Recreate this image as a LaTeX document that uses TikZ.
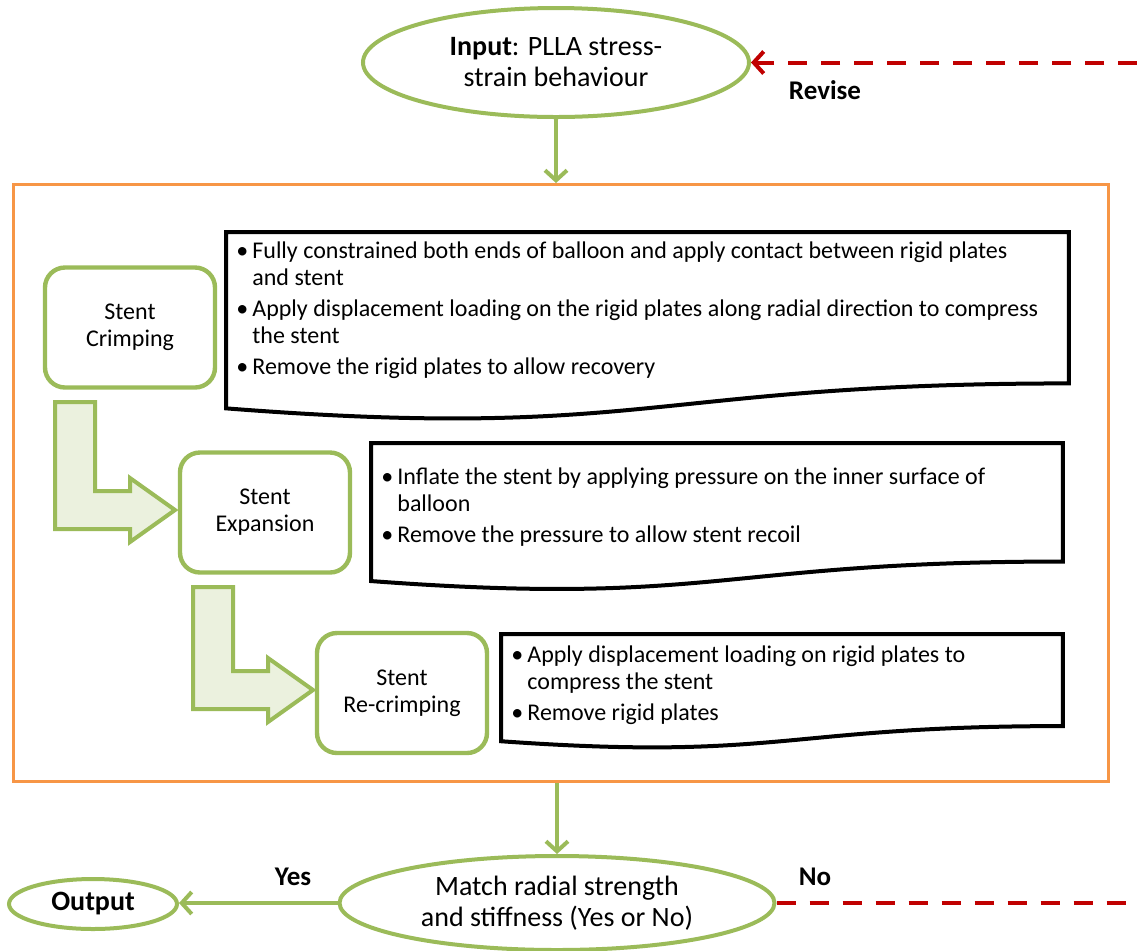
\documentclass[tikz,border=0pt]{standalone}
\usepackage{fontspec}
\setmainfont{Carlito}
\usetikzlibrary{shapes.geometric, arrows.meta, calc, positioning}
\definecolor{stentgreen}{HTML}{9BBB59}
\definecolor{stentfill}{HTML}{EBF1DE}
\definecolor{boxorange}{HTML}{F79646}
\definecolor{revred}{HTML}{C00000}
\tikzset{
  io/.style={ellipse, draw=stentgreen, line width=2pt, align=center, inner sep=0pt},
  frame/.style={rectangle, draw=boxorange, line width=1.4pt, anchor=north west},
  stage/.style={rectangle, draw=stentgreen, line width=2.2pt, rounded corners=10pt, minimum width=85pt, minimum height=60pt, align=center, font=\fontsize{12}{13.5}\selectfont},
  docbox/.style={rectangle, draw=none, inner sep=0pt, anchor=north west},
  docline/.style={draw=black, line width=2pt},
  doctext/.style={anchor=north west, inner sep=0pt, align=left, font=\fontsize{12}{13.5}\selectfont},
  bent/.style={draw=stentgreen, fill=stentfill, line width=2pt},
  flow/.style={draw=stentgreen, line width=2pt, -{Straight Barb[length=5pt, width=11pt]}},
  revise/.style={draw=revred, line width=2pt, dash pattern=on 9.5pt off 7pt},
  revarrow/.style={-{Straight Barb[length=5pt, width=11pt]}},
  tag/.style={font=\bfseries\fontsize{13.5}{15}\selectfont}
}
\newcommand{\docoutline}[1]{%
  \draw[docline] (#1.north west) -- (#1.north east)
    -- ($(#1.north east)!0.802!(#1.south east)$)
    .. controls ($(#1.north)!0.802!(#1.south)$) and ($(#1.north)!1.108!(#1.south)$)
    .. ($(#1.north west)!0.934!(#1.south west)$) -- cycle;}
\newcommand{\bul}{\makebox[8pt][l]{\textbullet}}

\begin{document}
\begin{tikzpicture}[x=0.5pt, y=-0.5pt]
\useasboundingbox (0,0) rectangle (1137,950);

% Input and simulation frame
\node[io, minimum width=193pt, minimum height=54.5pt, font=\fontsize{14}{15.5}\selectfont] (input) at (556,62.5) {\textbf{Input}: PLLA stress-\\strain behaviour};
\node[frame, minimum width=547.5pt, minimum height=298.5pt] (sim) at (12,183) {};

% Simulation stages
\node[stage] (crimp) at (130,327.5) {Stent\\Crimping};
\node[stage] (expand) at (265,512.5) {Stent\\Expansion};
\node[stage] (recrimp) at (402,693) {Stent\\Re-crimping};

% Step descriptions
\node[docbox, minimum width=421pt, minimum height=94pt] (doc1) at (226,232) {};
\docoutline{doc1}
\node[doctext] (doc1txt) at ([xshift=5pt, yshift=-3.5pt]doc1.north west) {%
  \begin{tabular}{@{}l@{}l@{}}
  \bul & Fully constrained both ends of balloon and apply contact between rigid plates\\
       & and stent\\[2pt]
  \bul & Apply displacement loading on the rigid plates along radial direction to compress\\
       & the stent\\[2pt]
  \bul & Remove the rigid plates to allow recovery
  \end{tabular}};

\node[docbox, minimum width=345.5pt, minimum height=73.5pt] (doc2) at (371,443) {};
\docoutline{doc2}
\node[doctext] (doc2txt) at ([xshift=5pt, yshift=-11pt]doc2.north west) {%
  \begin{tabular}{@{}l@{}l@{}}
  \bul & Inflate the stent by applying pressure on the inner surface of\\
       & balloon\\[2pt]
  \bul & Remove the pressure to allow stent recoil
  \end{tabular}};

\node[docbox, minimum width=280.5pt, minimum height=57pt] (doc3) at (501,634) {};
\docoutline{doc3}
\node[doctext] (doc3txt) at ([xshift=5pt, yshift=-4.5pt]doc3.north west) {%
  \begin{tabular}{@{}l@{}l@{}}
  \bul & Apply displacement loading on rigid plates to\\
       & compress the stent\\[2pt]
  \bul & Remove rigid plates
  \end{tabular}};

% Bent arrows between stages
\draw[bent] (55,402) -- (95,402) -- (95,491) -- (130,491) -- (130,478) -- (175,510)
  -- (130,542) -- (130,529) -- (55,529) -- cycle;
\draw[bent] (193,587) -- (233,587) -- (233,671) -- (268,671) -- (268,658) -- (313,690)
  -- (268,722) -- (268,709) -- (193,709) -- cycle;

% Check and output
\node[io, minimum width=217.5pt, minimum height=47pt, font=\fontsize{14}{15.5}\selectfont] (match) at (557,903) {Match radial strength\\and stiffness (Yes or No)};
\node[io, minimum width=84pt, minimum height=25pt, font=\bfseries\fontsize{14}{15}\selectfont] (output) at (93,904) {Output};

\draw[flow] (input.south) -- (input.south |- sim.north);
\draw[flow] (sim.south -| match.north) -- (match.north);
\draw[flow] (match.west) -- (output.east |- match.west);

\coordinate (revfrom) at (1137,62.5);
\draw[revise, revarrow] (revfrom) -- (input.east);
\coordinate (noto) at (1137,903);
\draw[revise] (match.east) -- (noto);

\node[tag] (yes) at (293,877) {Yes};
\node[tag] (no) at (815,877) {No};
\node[tag] (revlbl) at (825,90) {Revise};

\end{tikzpicture}
\end{document}
